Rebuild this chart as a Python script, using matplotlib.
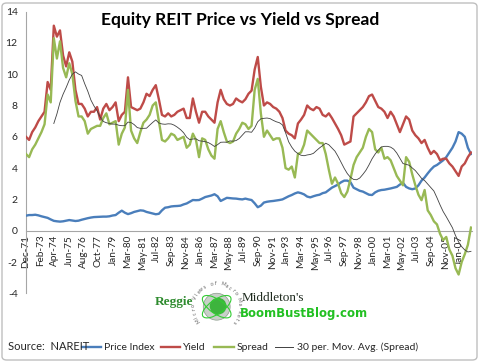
import numpy as np
import pandas as pd
import matplotlib
matplotlib.use("Agg")
import matplotlib.pyplot as plt
from matplotlib.lines import Line2D
from matplotlib.patches import FancyBboxPatch, Circle, Ellipse

# ---------------- data (quarterly samples) ----------------
# month offsets from Dec-1971
months = np.arange(0, 433, 3)

price_index = [
    0.96, 1.00, 1.00, 1.02, 0.98, 0.92, 0.87, 0.82, 0.72, 0.63,
    0.60, 0.58, 0.60, 0.64, 0.68, 0.65, 0.62, 0.64, 0.70, 0.75,
    0.80, 0.84, 0.87, 0.88, 0.89, 0.90, 0.90, 0.92, 0.97, 1.00,
    1.15, 1.28, 1.15, 1.06, 1.12, 1.20, 1.25, 1.30, 1.28, 1.20,
    1.15, 1.10, 1.05, 1.08, 1.30, 1.47, 1.50, 1.55, 1.57, 1.58,
    1.60, 1.68, 1.74, 1.85, 1.96, 1.95, 1.96, 2.05, 2.15, 2.20,
    2.25, 2.33, 2.20, 1.90, 2.00, 2.10, 2.08, 2.06, 2.05, 2.02,
    2.00, 2.05, 2.00, 1.96, 1.75, 1.50, 1.60, 1.80, 1.85, 1.88,
    1.90, 1.93, 1.96, 2.00, 2.10, 2.20, 2.28, 2.38, 2.45, 2.40,
    2.32, 2.18, 2.13, 2.20, 2.26, 2.30, 2.40, 2.45, 2.60, 2.75,
    2.85, 2.95, 3.10, 3.20, 3.20, 3.10, 2.75, 2.65, 2.55, 2.50,
    2.40, 2.30, 2.28, 2.45, 2.55, 2.60, 2.62, 2.66, 2.70, 2.75,
    2.80, 2.95, 3.06, 2.80, 2.70, 2.65, 2.70, 2.90, 3.20, 3.40,
    3.66, 3.90, 4.10, 4.20, 4.35, 4.50, 4.70, 5.00, 5.30, 5.70,
    6.30, 6.20, 6.00, 5.30, 4.90,
]

yield_pct = [
    6.0, 5.8, 6.3, 6.6, 7.0, 7.3, 7.6, 9.5, 9.0, 13.1,
    12.4, 12.8, 11.2, 10.5, 11.4, 10.8, 9.0, 8.1, 8.1, 7.8,
    7.3, 7.6, 7.6, 7.9, 7.1, 7.8, 8.1, 7.7, 7.9, 8.2,
    7.0, 7.4, 7.6, 9.8, 7.9, 7.8, 7.7, 7.8, 8.2, 8.75,
    8.6, 9.0, 9.3, 8.4, 7.4, 7.3, 7.5, 7.3, 7.4, 7.6,
    7.7, 7.8, 7.2, 7.2, 8.45, 7.6, 6.9, 7.6, 7.6, 7.3,
    7.1, 6.9, 8.2, 9.0, 8.4, 8.1, 8.0, 8.1, 8.45, 8.3,
    8.2, 8.4, 8.75, 8.95, 10.3, 11.1, 9.2, 8.0, 8.2, 8.1,
    7.9, 7.8, 7.6, 7.2, 6.4, 6.2, 6.1, 5.9, 6.85, 7.1,
    7.4, 8.0, 7.8, 7.7, 7.9, 7.8, 7.4, 7.3, 7.5, 7.2,
    6.85, 6.5, 6.1, 5.5, 5.6, 5.7, 7.3, 7.5, 7.7, 7.9,
    8.2, 8.6, 8.7, 8.3, 7.9, 7.8, 7.6, 7.2, 7.6, 7.3,
    6.8, 6.3, 6.8, 7.3, 7.1, 6.4, 6.1, 5.9, 5.6, 5.8,
    5.3, 4.9, 5.1, 4.9, 4.5, 4.6, 4.6, 4.3, 4.1, 3.8,
    3.5, 4.1, 4.3, 4.7, 5.0,
]

spread = [
    4.9, 4.7, 5.2, 5.5, 5.9, 6.3, 6.8, 8.7, 8.2, 12.3,
    11.0, 12.1, 10.4, 9.8, 10.7, 10.0, 8.3, 7.3, 7.3, 7.0,
    6.2, 6.5, 6.6, 6.7, 6.7, 7.2, 7.5, 6.8, 6.9, 7.0,
    5.5, 6.2, 6.6, 9.0, 6.4, 5.9, 5.6, 6.3, 6.9, 7.1,
    7.4, 8.0, 8.2, 7.0, 5.8, 5.7, 5.9, 6.2, 6.1, 5.8,
    5.9, 6.0, 5.3, 5.5, 6.2, 5.8, 4.7, 5.9, 5.8, 5.2,
    4.8, 4.6, 6.5, 7.0, 6.3, 5.7, 5.6, 5.7, 6.2, 6.5,
    6.9, 6.8, 6.5, 6.7, 9.0, 9.7, 7.5, 6.0, 6.4, 6.1,
    5.8, 5.9, 5.9, 5.3, 4.0, 3.9, 4.1, 3.4, 4.9, 5.0,
    5.5, 6.4, 6.2, 6.0, 5.8, 5.6, 5.6, 4.9, 3.9, 3.0,
    3.4, 3.0, 2.4, 2.15, 2.5, 3.3, 4.2, 4.7, 5.0, 5.3,
    6.0, 6.5, 6.3, 5.2, 5.0, 5.3, 4.6, 4.7, 4.5, 4.0,
    3.5, 3.2, 2.9, 4.7, 4.4, 3.6, 2.9, 2.3, 1.95, 2.6,
    1.3, 1.0, 0.6, 0.4, -0.2, -0.6, -0.4, -1.2, -1.6, -2.4,
    -2.8, -2.0, -1.5, -0.9, 0.2,
]

tick_labels = [
    "Dec-71", "Feb-73", "Apr-74", "Jun-75", "Aug-76", "Oct-77", "Jan-79",
    "Mar-80", "May-81", "Jul-82", "Sep-83", "Nov-84", "Jan-86", "Mar-87",
    "May-88", "Jul-89", "Sep-90", "Nov-91", "Jan-93", "Mar-94", "May-95",
    "Jul-96", "Sep-97", "Nov-98", "Jan-00", "Mar-01", "May-02", "Jul-03",
    "Sep-04", "Nov-05", "Jan-07",
]

series_names = ["Price Index", "Yield", "Spread", "30 per. Mov. Avg. (Spread)"]
colors = ["#4A7EBB", "#BE4B48", "#98B954", "#404040"]

# 30-month moving average == 10 quarterly samples
ma_spread = pd.Series(spread).rolling(10).mean().to_numpy()

MON = {m: i + 1 for i, m in enumerate(
    ["Jan", "Feb", "Mar", "Apr", "May", "Jun", "Jul", "Aug", "Sep", "Oct", "Nov", "Dec"])}


def label_to_offset(lbl):
    mon, yy = lbl.split("-")
    yy = int(yy)
    year = 1900 + yy if yy >= 50 else 2000 + yy
    return (year - 1971) * 12 + (MON[mon] - 12)


tick_pos = [label_to_offset(l) for l in tick_labels]

# ---------------- figure ----------------
W, H = 480, 362
fig = plt.figure(figsize=(W / 100, H / 100), dpi=100)
plt.rcParams["font.family"] = ["Lato", "DejaVu Sans"]

# chart-area border
fig.patches.append(FancyBboxPatch((2 / W, 2 / H), 1 - 5 / W, 1 - 5 / H,
                                  boxstyle="round,pad=0,rounding_size=0.01",
                                  transform=fig.transFigure, fill=False,
                                  edgecolor="#BFBFBF", linewidth=1.0))

left, right = 26 / W, 472 / W
top, bottom = 1 - 11.6 / H, 1 - 293.3 / H
ax = fig.add_axes([left, bottom, right - left, top - bottom])
ax.set_facecolor("none")

ax.plot(months, price_index, color=colors[0], lw=1.7, zorder=3)
ax.plot(months, yield_pct, color=colors[1], lw=1.7, zorder=3)
ax.plot(months, spread, color=colors[2], lw=1.7, zorder=3)
ax.plot(months, ma_spread, color=colors[3], lw=0.6, zorder=4)

ax.set_xlim(0, 433)
ax.set_ylim(-4, 14)
ax.set_yticks(np.arange(-4, 15, 2))
ax.set_yticklabels([str(v) for v in range(-4, 15, 2)], fontsize=7.5, color="#262626")
ax.tick_params(axis="y", length=0, pad=6)

ax.spines["top"].set_visible(False)
ax.spines["right"].set_visible(False)
ax.spines["bottom"].set_position(("data", 0))
for s in ("left", "bottom"):
    ax.spines[s].set_color("#A6A6A6")
    ax.spines[s].set_linewidth(0.8)

ax.set_xticks(tick_pos)
ax.set_xticklabels(tick_labels, rotation=90, fontsize=7.2, color="#262626",
                   ha="center", va="top")
ax.tick_params(axis="x", length=0, pad=3)

# title
fig.text(0.5, 1 - 20 / H, "Equity REIT Price vs Yield vs Spread",
         ha="center", va="center", fontsize=12.5, fontweight="bold", color="#000000")

# source + legend
ly = 1 - 347 / H
fig.text(8 / W, ly, "Source:  NAREIT", ha="left", va="center", fontsize=8, color="#262626")
leg_items = [(82, 101, 104), (161, 180, 183), (214, 234, 237), (275, 293, 297)]
for (x0, x1, xt), name, c, lw in zip(leg_items, series_names, colors, [1.7, 1.7, 1.7, 0.7]):
    fig.lines.append(Line2D([x0 / W, x1 / W], [ly, ly], color=c, lw=lw,
                            transform=fig.transFigure))
    fig.text(xt / W, ly, name, ha="left", va="center", fontsize=7.5, color="#262626")

# ---------------- logo ----------------
fig.text(155 / W, 1 - 302 / H, "Reggie", ha="left", va="center", fontsize=9.5,
         family=["Liberation Serif", "DejaVu Serif"], color="#2E8B2E", fontweight="bold")
fig.text(242 / W, 1 - 298 / H, "Middleton's", ha="left", va="center", fontsize=9.5,
         family=["Liberation Serif", "DejaVu Serif"], color="#1E2A1E")
fig.text(240 / W, 1 - 313 / H, "BoomBustBlog.com", ha="left", va="center", fontsize=8.5,
         family=["Liberation Sans Narrow", "DejaVu Sans"], fontweight="bold", color="#22C022")

lax = fig.add_axes([(216.7 - 28) / W, 1 - (306.7 + 28) / H, 56 / W, 56 / H])
lax.set_xlim(-1, 1)
lax.set_ylim(-1, 1)
lax.set_aspect("equal")
lax.axis("off")
lax.add_patch(Circle((0, 0), 0.48, facecolor="#C8D0C8", edgecolor="#8A9A8A", lw=0.5))
lax.add_patch(Circle((0.05, 0.02), 0.30, facecolor="#3DB43D", edgecolor="none"))
lax.add_patch(Ellipse((0, 0), 1.2, 0.5, angle=35, fill=False, edgecolor="#33CC33", lw=0.8))
lax.add_patch(Ellipse((0, 0), 1.2, 0.5, angle=-35, fill=False, edgecolor="#33CC33", lw=0.8))
ring_text = "Micro Views of Macro Markets"
angs = np.linspace(215, -40, len(ring_text))
for ch, a in zip(ring_text, angs):
    r = 0.82
    lax.text(r * np.cos(np.radians(a)), r * np.sin(np.radians(a)), ch,
             rotation=a - 90, ha="center", va="center", fontsize=3.6, color="#555555")

fig.savefig("out.png", dpi=100)
